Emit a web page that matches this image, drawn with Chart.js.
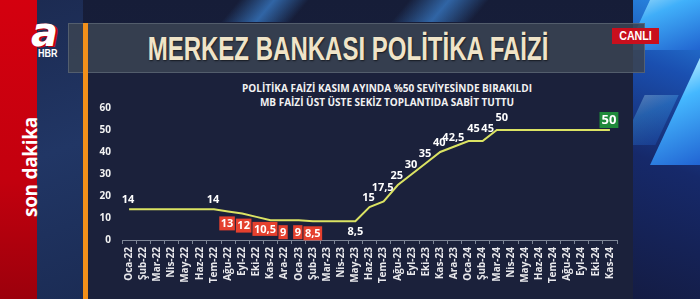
<!doctype html>
<html lang="tr">
 <head>
  <meta charset="UTF-8">
  <title>Merkez Bankası Politika Faizi</title>
  <script src="https://cdn.jsdelivr.net/npm/chart.js"></script>
  <style>
        body {
            margin: 0;
            padding: 0;
            width: 700px;
            height: 299px;
            overflow: hidden;
            background-color: #151b33;
            font-family: 'Open Sans', sans-serif;
        }

        .screen {
            position: relative;
            width: 700px;
            height: 299px;
            overflow: hidden;
            background: linear-gradient(180deg, #161d38 0%, #1a2244 100%);
        }

        .streak {
            position: absolute;
            background: linear-gradient(90deg, rgba(40,120,220,0), rgba(70,160,255,0.55), rgba(40,120,220,0));
            transform: skewX(-40deg);
        }

        .red-stripe {
            position: absolute;
            left: 0; top: 0;
            width: 37px; height: 299px;
            background: linear-gradient(180deg, #d4000f 0%, #c3000e 60%, #9c000c 100%);
        }

        .blue-side {
            position: absolute;
            left: 37px; top: 0;
            width: 46px; height: 299px;
            background: linear-gradient(160deg, #1c2b52 0%, #213665 50%, #1b2c55 100%);
        }

        .son-dakika {
            position: absolute;
            left: 30px; top: 167px;
            transform: translate(-50%, -50%) rotate(-90deg);
            color: #fff;
            font-weight: bold;
            font-size: 19px;
            white-space: nowrap;
            letter-spacing: -0.3px;
        }

        .logo-a {
            position: absolute;
            left: 31px; top: 12px;
            color: #fff;
            font-family: 'DejaVu Sans', sans-serif;
            font-weight: bold;
            font-style: italic;
            font-size: 40px;
            line-height: 40px;
            text-shadow: 2px 1px 0 #c5000e, -1px 0 0 #c5000e;
        }

        .logo-hbr {
            position: absolute;
            left: 38px; top: 48px;
            color: #fff;
            font-family: 'Liberation Sans', sans-serif;
            font-weight: bold;
            font-size: 10px;
            transform: scaleX(0.9);
            transform-origin: left center;
        }

        .header {
            position: absolute;
            left: 68px; top: 23px;
            width: 577px; height: 50px;
            background: rgba(58, 67, 82, 0.88);
            box-shadow: inset 0 0 0 1px rgba(120, 130, 145, 0.45);
        }

        .title {
            position: absolute;
            left: 348px; top: 48px;
            color: #f0e4c8;
            font-family: 'Liberation Sans', sans-serif;
            font-weight: bold;
            font-size: 33px;
            line-height: 33px;
            white-space: nowrap;
            text-shadow: 1px 1px 2px rgba(0,0,0,0.6);
        }

        .canli {
            position: absolute;
            left: 612px; top: 28px;
            width: 47px; height: 16px;
            background: #c80f1d;
        }

        .canli span {
            display: block;
            color: #fff;
            font-family: 'Liberation Sans', sans-serif;
            font-weight: bold;
            font-size: 13px;
            line-height: 16px;
            text-align: center;
            transform: scaleX(0.82);
        }

        .orange-bar {
            position: absolute;
            left: 83px; top: 23px;
            width: 5px; height: 276px;
            background: #f2901a;
        }

        .panel {
            position: absolute;
            left: 88px; top: 73px;
            width: 545px; height: 226px;
            background: #1b213b;
        }

        .right-deco {
            position: absolute;
            left: 633px; top: 0;
            width: 67px; height: 299px;
            background: linear-gradient(200deg, #2a8ee8 0%, #1a4fb0 25%, #16296a 55%, #141c44 100%);
            overflow: hidden;
        }

        .shard {
            position: absolute;
            background: linear-gradient(150deg, #c8f4ff 0%, #45b8ff 35%, #1f5fd0 100%);
            transform: skewX(-25deg);
        }

        .subtitle {
            position: absolute;
            left: 387px;
            transform: translateX(-50%);
            color: #f2f2f2;
            font-weight: bold;
            font-size: 10px;
            white-space: nowrap;
        }

        #chart-box {
            position: absolute;
            left: 87px; top: 78px;
            width: 545px; height: 220px;
        }
    </style>
 </head>
 <body>
  <div class="screen">
   <div class="streak" style="left:230px; top:0; width:70px; height:22px;"></div>
   <div class="streak" style="left:400px; top:0; width:80px; height:22px;"></div>
   <div class="red-stripe"></div>
   <div class="blue-side"></div>
   <div class="son-dakika">son dakika</div>
   <div class="right-deco">
    <div class="shard" style="left:10px; top:-20px; width:80px; height:70px; opacity:0.85;"></div>
    <div class="shard" style="left:45px; top:45px; width:60px; height:120px;"></div>
    <div class="shard" style="left:0px; top:95px; width:34px; height:50px; opacity:0.3;"></div>
   </div>
   <div class="header"></div>
   <div class="title" id="title">MERKEZ BANKASI POLİTİKA FAİZİ</div>
   <div class="canli"><span>CANLI</span></div>
   <div class="logo-a">a</div>
   <div class="logo-hbr">HBR</div>
   <div class="panel"></div>
   <div class="orange-bar"></div>
   <div class="subtitle" style="top:81px;">POLİTİKA FAİZİ KASIM AYINDA %50 SEVİYESİNDE BIRAKILDI</div>
   <div class="subtitle" style="top:95px;">MB FAİZİ ÜST ÜSTE SEKİZ TOPLANTIDA SABİT TUTTU</div>
   <div id="chart-box">
    <canvas id="chart"></canvas>
   </div>
  </div>
  <script>
        const months = [
            'Oca-22', 'Şub-22', 'Mar-22', 'Nis-22', 'May-22', 'Haz-22', 'Tem-22', 'Ağu-22', 'Eyl-22', 'Eki-22', 'Kas-22', 'Ara-22',
            'Oca-23', 'Şub-23', 'Mar-23', 'Nis-23', 'May-23', 'Haz-23', 'Tem-23', 'Ağu-23', 'Eyl-23', 'Eki-23', 'Kas-23', 'Ara-23',
            'Oca-24', 'Şub-24', 'Mar-24', 'Nis-24', 'May-24', 'Haz-24', 'Tem-24', 'Ağu-24', 'Eyl-24', 'Eki-24', 'Kas-24'
        ];
        const rates = [
            14, 14, 14, 14, 14, 14, 14, 13, 12, 10.5, 9, 9,
            9, 8.5, 8.5, 8.5, 8.5, 15, 17.5, 25, 30, 35, 40, 42.5,
            45, 45, 50, 50, 50, 50, 50, 50, 50, 50, 50
        ];
        const yTicks = [0, 10, 20, 30, 40, 50, 60];

        // which months get a value written next to the line
        const labelsAbove = [0, 6, 17, 18, 19, 20, 21, 22, 23, 24, 25, 26];
        const labelsBelow = [16];
        const cutBoxes = [7, 8, 9, 10, 12, 13];
        const lastBox = [34];

        // squeeze the title into the header like the condensed TV font
        const titleEl = document.getElementById('title');
        const sx = 401 / titleEl.offsetWidth;
        titleEl.style.transform = `translate(-50%, -50%) scaleX(${sx})`;

        const fmt = v => String(v).replace('.', ',');

        const valueLabels = {
            id: 'valueLabels',
            afterDatasetsDraw(chart) {
                const ctx = chart.ctx;
                const pts = chart.getDatasetMeta(0).data;
                ctx.save();
                ctx.textAlign = 'center';
                ctx.textBaseline = 'middle';

                ctx.font = 'bold 11px "Open Sans"';
                ctx.fillStyle = '#ffffff';
                labelsAbove.forEach(i => {
                    const rise = i + 1 < rates.length ? rates[i + 1] - rates[i] : 0;
                    const flatBefore = i > 0 && rates[i - 1] === rates[i];
                    const dy = rise > 6 ? -14 : (rise === 0 || flatBefore) && rates[i] > 40 ? -12 : -9;
                    const dx = rates[i] > 40 && (rise === 0 || rise === 5 && rates[i] === 45) ? 5 : -1;
                    ctx.fillText(fmt(rates[i]), pts[i].x + dx, pts[i].y + dy);
                });
                labelsBelow.forEach(i => ctx.fillText(fmt(rates[i]), pts[i].x, pts[i].y + 11));

                // red boxes for the cuts, pushed right so they never overlap
                ctx.font = 'bold 11px "Open Sans"';
                let lastRight = -Infinity;
                cutBoxes.forEach(i => {
                    const txt = fmt(rates[i]);
                    const w = ctx.measureText(txt).width + 3;
                    let left = Math.max(pts[i].x - w / 2 - 1, lastRight + 1);
                    lastRight = left + w;
                    const top = pts[i].y + 5;
                    ctx.fillStyle = '#e5402e';
                    ctx.fillRect(left, top, w, 14);
                    ctx.fillStyle = '#ffffff';
                    ctx.fillText(txt, left + w / 2, top + 7.5);
                });

                ctx.font = 'bold 13px "Open Sans"';
                lastBox.forEach(i => {
                    const txt = fmt(rates[i]);
                    const w = ctx.measureText(txt).width + 4;
                    const cx = pts[i].x - 1;
                    const cy = pts[i].y - 10;
                    ctx.fillStyle = '#1f8a3b';
                    ctx.fillRect(cx - w / 2, cy - 8, w, 16);
                    ctx.fillStyle = '#ffffff';
                    ctx.fillText(txt, cx, cy + 0.5);
                });
                ctx.restore();
            }
        };

        const ctx = document.getElementById('chart').getContext('2d');
        new Chart(ctx, {
            type: 'line',
            data: {
                labels: months,
                datasets: [{
                    data: rates,
                    borderColor: '#dbe363',
                    borderWidth: 2,
                    pointRadius: 0,
                    tension: 0,
                    fill: false
                }]
            },
            options: {
                responsive: true,
                maintainAspectRatio: false,
                animation: false,
                layout: { padding: { top: 30, right: 15, left: 0, bottom: 0 } },
                plugins: {
                    legend: { display: false },
                    tooltip: { enabled: false }
                },
                scales: {
                    x: {
                        offset: true,
                        grid: { display: true, drawOnChartArea: false, drawTicks: true, tickLength: 4, offset: true, color: '#7d8596' },
                        border: { display: true, color: '#7d8596', width: 1 },
                        ticks: {
                            color: '#e8e8ec',
                            font: { family: 'Open Sans', weight: 'bold', size: 10 },
                            minRotation: 90,
                            maxRotation: 90,
                            autoSkip: false,
                            padding: 3
                        },
                        afterFit(scale) { scale.height = 58; }
                    },
                    y: {
                        min: 0,
                        max: 60,
                        grid: { display: false, drawTicks: false },
                        border: { display: false },
                        afterBuildTicks(scale) { scale.ticks = yTicks.map(v => ({ value: v })); },
                        ticks: {
                            color: '#f2f2f2',
                            font: { family: 'Open Sans', weight: 'bold', size: 10 },
                            padding: 11
                        },
                        afterFit(scale) { scale.width = 35; }
                    }
                }
            },
            plugins: [valueLabels]
        });
    </script>
 </body>
</html>
